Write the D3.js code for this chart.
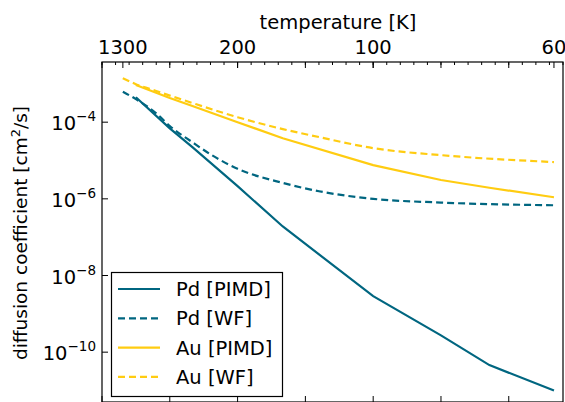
<!DOCTYPE html>
<html><head><meta charset="utf-8">
<script src="https://cdn.jsdelivr.net/npm/d3@7"></script>
<style>
html,body{margin:0;padding:0;background:#fff;}
text{font-family:"DejaVu Sans",sans-serif;fill:#000;}
</style></head>
<body>
<svg id="c" width="565" height="402"></svg>
<script>
// temperatures in K (x is plotted as 1000/T)
const pdPimdT = [800, 400, 300, 200, 150, 100, 80, 70, 60];
const pdPimdD = [4.47e-4, 6.9e-5, 2.24e-5, 2.14e-6, 1.9e-7, 2.9e-9, 2.75e-10, 4.6e-11, 1.0e-11];
const pdWfT = [1300, 800, 500, 400, 300, 250, 200, 150, 125, 100, 80, 60];
const pdWfD = [6.2e-4, 4.0e-4, 1.7e-4, 7.9e-5, 3.0e-5, 1.45e-5, 6.1e-6, 2.6e-6, 1.58e-6, 1.0e-6, 8.0e-7, 6.8e-7];
const auPimdT = [800, 400, 300, 200, 150, 100, 80, 70, 60];
const auPimdD = [9.3e-4, 4.27e-4, 2.63e-4, 1.0e-4, 3.8e-5, 7.6e-6, 3.1e-6, 1.95e-6, 1.1e-6];
const auWfT = [1300, 800, 500, 300, 200, 150, 125, 100, 80, 60];
const auWfD = [1.41e-3, 9.8e-4, 6.5e-4, 3.16e-4, 1.35e-4, 6.6e-5, 4.1e-5, 2.1e-5, 1.38e-5, 9.1e-6];
const topTickTemps = [1300, 200, 100, 60];
const yTickExps = [-4, -6, -8, -10];
const seriesNames = ["Pd [PIMD]", "Pd [WF]", "Au [PIMD]", "Au [WF]"];

const teal = "#006680", gold = "#ffcc11";
const series = [
  {name: seriesNames[0], T: pdPimdT, D: pdPimdD, color: teal, dash: null, smooth: false},
  {name: seriesNames[1], T: pdWfT, D: pdWfD, color: teal, dash: "7,4", smooth: true},
  {name: seriesNames[2], T: auPimdT, D: auPimdD, color: gold, dash: null, smooth: false},
  {name: seriesNames[3], T: auWfT, D: auWfD, color: gold, dash: "7,4", smooth: true}
];

const L = 102, R = 563, T0 = 62, B = 402;
const svg = d3.select("#c");
const x = d3.scaleLinear().domain([0, 17]).range([L, R]);
const y = d3.scaleLog().domain([Math.pow(10, -11.3), Math.pow(10, -2.43)]).range([B, T0]);

svg.append("clipPath").attr("id", "pc").append("rect")
  .attr("x", L).attr("y", T0).attr("width", R - L).attr("height", B - T0);

const g = svg.append("g").attr("clip-path", "url(#pc)");
series.forEach(s => {
  const line = d3.line().x(d => x(1000 / d[0])).y(d => y(d[1]))
    .curve(s.smooth ? d3.curveMonotoneX : d3.curveLinear);
  g.append("path").datum(s.T.map((t, i) => [t, s.D[i]]))
    .attr("d", line).attr("fill", "none").attr("stroke", s.color)
    .attr("stroke-width", 2.2).attr("stroke-dasharray", s.dash);
});

// frame
svg.append("rect").attr("x", L).attr("y", T0).attr("width", R - L).attr("height", B - T0)
  .attr("fill", "none").attr("stroke", "#000").attr("stroke-width", 1.2);

// top axis
const minorVals = d3.range(0, 17.01, 0.5);
const majorVals = d3.range(0, 15.01, 2.5);
const tg = svg.append("g");
minorVals.forEach(v => tg.append("line").attr("x1", x(v)).attr("x2", x(v))
  .attr("y1", T0).attr("y2", T0 + 3).attr("stroke", "#000").attr("stroke-width", 1));
majorVals.forEach(v => tg.append("line").attr("x1", x(v)).attr("x2", x(v))
  .attr("y1", T0).attr("y2", T0 + 6).attr("stroke", "#000").attr("stroke-width", 1));
topTickTemps.forEach(t => {
  const px = x(1000 / t);
  tg.append("line").attr("x1", px).attr("x2", px).attr("y1", T0).attr("y2", T0 + 6)
    .attr("stroke", "#000").attr("stroke-width", 1);
  tg.append("text").attr("x", px).attr("y", 54).attr("text-anchor", "middle")
    .attr("font-size", 19.5).text(t);
});
svg.append("text").attr("x", 338).attr("y", 29).attr("text-anchor", "middle")
  .attr("font-size", 19.5).text("temperature [K]");

// bottom ticks
majorVals.forEach(v => svg.append("line").attr("x1", x(v)).attr("x2", x(v))
  .attr("y1", B).attr("y2", B - 6).attr("stroke", "#000").attr("stroke-width", 1));

// left axis
yTickExps.forEach(e => {
  const py = y(Math.pow(10, e));
  svg.append("line").attr("x1", L).attr("x2", L + 6).attr("y1", py).attr("y2", py)
    .attr("stroke", "#000").attr("stroke-width", 1);
  const t = svg.append("text").attr("x", 96).attr("y", py + 8).attr("text-anchor", "end")
    .attr("font-size", 19.5);
  t.append("tspan").text("10");
  t.append("tspan").attr("dy", -9).attr("font-size", 13.5).text("\u2212" + Math.abs(e));
});
const yl = svg.append("text").attr("transform", "translate(27,233) rotate(-90)")
  .attr("text-anchor", "middle").attr("font-size", 18.5);
yl.append("tspan").text("diffusion coefficient [cm");
yl.append("tspan").attr("dy", -7).attr("font-size", 13).text("2");
yl.append("tspan").attr("dy", 7).text("/s]");

// legend
const lg = svg.append("g");
lg.append("rect").attr("x", 111.5).attr("y", 272.5).attr("width", 171).attr("height", 124)
  .attr("fill", "#fff").attr("stroke", "#000").attr("stroke-width", 1.2);
series.forEach((s, i) => {
  const ly = 289 + i * 29.3;
  lg.append("line").attr("x1", 118).attr("x2", 160).attr("y1", ly).attr("y2", ly)
    .attr("stroke", s.color).attr("stroke-width", 2.2).attr("stroke-dasharray", s.dash);
  lg.append("text").attr("x", 176).attr("y", ly + 7).attr("font-size", 19.5).text(s.name);
});
</script>
</body></html>
